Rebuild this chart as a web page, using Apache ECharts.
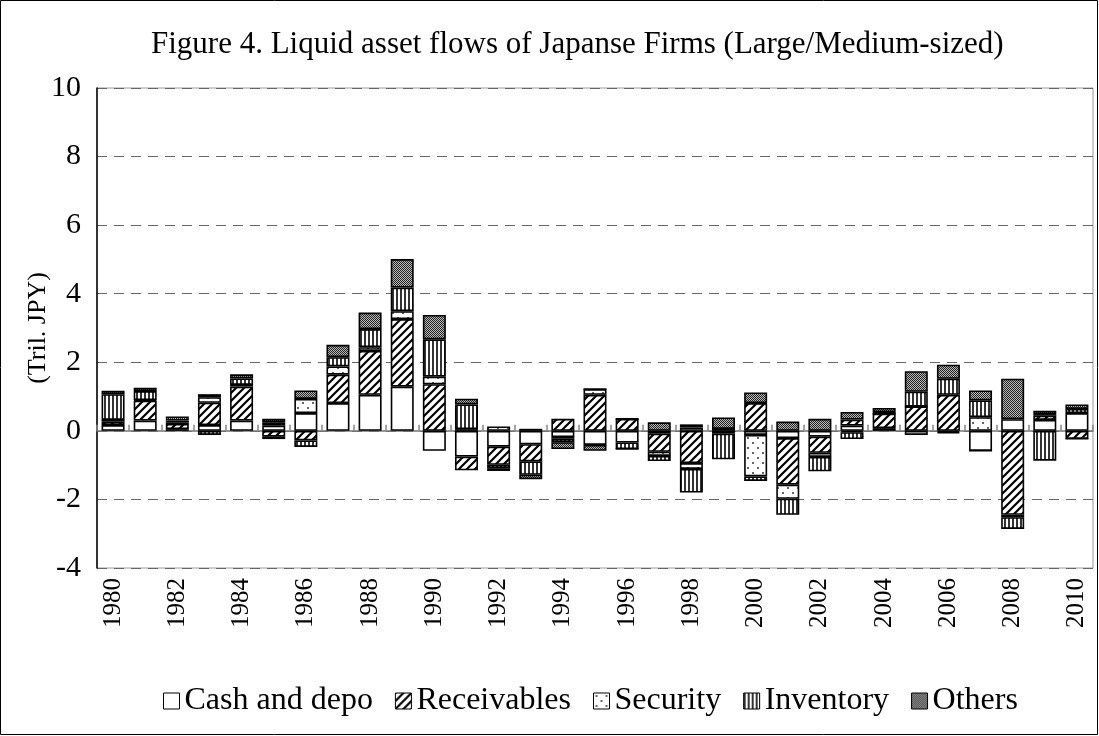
<!DOCTYPE html>
<html>
<head>
<meta charset="utf-8">
<script src="https://cdn.jsdelivr.net/npm/echarts@6/dist/echarts.min.js"></script>
<style>
  html, body { margin: 0; padding: 0; background: #fff; }
  #chart { width: 1099px; height: 736px; }
</style>
</head>
<body>
<div id="chart"></div>
<script>
// data (Tril. JPY)
var years = ['1980','1981','1982','1983','1984','1985','1986','1987','1988','1989','1990',
  '1991','1992','1993','1994','1995','1996','1997','1998','1999','2000',
  '2001','2002','2003','2004','2005','2006','2007','2008','2009','2010'];
var cash = [0.17, 0.3, 0.05, 0.17, 0.3, 0.15, 0.52, 0.81, 1.05, 1.29, -0.58,
  -0.75, -0.46, -0.39, -0.18, -0.41, -0.34, -0.08, 0.1, 0.06, -0.12,
  -0.21, -0.17, 0.15, 0.08, -0.12, -0.04, -0.58, 0.34, 0.32, 0.52];
var receivables = [0.1, 0.58, 0.15, 0.65, 0.99, -0.17, -0.28, 0.83, 1.28, 1.97, 1.36,
  -0.4, -0.53, -0.5, 0.35, 1.05, 0.35, -0.53, -0.94, 0, 0.81,
  -1.36, -0.47, 0.18, 0.42, 0.71, 1.05, 0, -2.45, 0.12, -0.23];
var security = [0.05, 0.02, 0.05, 0.16, 0.05, -0.07, 0.41, 0.24, 0.11, 0.23, 0.22,
  0.05, 0.13, 0.06, -0.05, 0.17, 0, -0.12, -0.17, -0.08, -1.21,
  -0.41, -0.12, -0.04, 0, 0, -0.03, 0.4, -0.07, 0.05, 0];
var inventory = [0.75, 0.26, 0.05, -0.12, 0.19, 0.1, -0.19, 0.27, 0.53, 0.69, 1.09,
  0.72, -0.1, -0.39, -0.1, 0, -0.19, -0.15, -0.69, -0.75, -0.13,
  -0.47, -0.42, -0.2, 0.05, 0.43, 0.47, 0.49, -0.34, -0.87, 0.12];
var others = [0.1, 0.1, 0.12, 0.09, 0.12, 0.1, 0.25, 0.36, 0.48, 0.83, 0.71,
  0.17, -0.08, -0.13, -0.2, -0.17, 0, 0.25, 0.09, 0.33, 0.31,
  0.27, 0.35, 0.22, 0.12, 0.6, 0.41, 0.29, 1.18, 0.1, 0.13];
var yTicks = { min: -4, max: 10, step: 2 };

var FONT = '"Liberation Serif", "Times New Roman", serif';

// fill patterns
function makePattern(w, h, draw) {
  var c = document.createElement('canvas');
  c.width = w; c.height = h;
  var ctx = c.getContext('2d');
  ctx.fillStyle = '#fff';
  ctx.fillRect(0, 0, w, h);
  draw(ctx);
  return { image: c, repeat: 'repeat' };
}
var hatch = makePattern(8, 8, function (ctx) {
  ctx.strokeStyle = '#000';
  ctx.lineWidth = 2.2;
  ctx.beginPath();
  ctx.moveTo(-2, 10); ctx.lineTo(10, -2);
  ctx.moveTo(-6, 6); ctx.lineTo(6, -6);
  ctx.moveTo(2, 14); ctx.lineTo(14, 2);
  ctx.stroke();
});
var dots = makePattern(10, 10, function (ctx) {
  ctx.fillStyle = '#666';
  ctx.fillRect(2, 2, 2, 2);
  ctx.fillRect(7, 7, 2, 2);
});
var vlines = makePattern(4, 4, function (ctx) {
  ctx.fillStyle = '#333';
  ctx.fillRect(0, 0, 2, 4);
});
var checker = makePattern(2, 2, function (ctx) {
  ctx.fillStyle = '#bbb';
  ctx.fillRect(0, 0, 2, 2);
  ctx.fillStyle = '#222';
  ctx.fillRect(0, 0, 1, 1);
  ctx.fillRect(1, 1, 1, 1);
});

function barSeries(name, data, fill) {
  return {
    name: name,
    type: 'bar',
    stack: 'flows',
    data: data,
    barWidth: 23,
    itemStyle: { color: fill, borderColor: '#000', borderWidth: 1.6 },
    emphasis: { disabled: true }
  };
}

var chart = echarts.init(document.getElementById('chart'));
chart.setOption({
  animation: false,
  backgroundColor: '#fff',
  textStyle: { fontFamily: FONT, color: '#000' },
  graphic: [{
    type: 'rect',
    shape: { x: 0.5, y: 0.5, width: 1097, height: 734 },
    style: { fill: 'none', stroke: '#000', lineWidth: 1 },
    silent: true
  }],
  title: {
    text: 'Figure 4. Liquid asset flows of Japanse Firms (Large/Medium-sized)',
    left: 146, top: 24,
    textStyle: { fontFamily: FONT, fontSize: 31, fontWeight: 'normal', color: '#000' }
  },
  legend: {
    left: 158, top: 680,
    icon: 'rect',
    itemWidth: 16, itemHeight: 16, itemGap: 22,
    textStyle: { fontFamily: FONT, fontSize: 32, color: '#000' },
    itemStyle: { borderWidth: 1 },
    data: ['Cash and depo', 'Receivables', 'Security', 'Inventory', 'Others']
  },
  grid: {
    left: 97, right: 6, top: 88, bottom: 168,
    show: true, borderColor: '#999', borderWidth: 1, backgroundColor: '#fff'
  },
  xAxis: [{
    type: 'category',
    data: years,
    position: 'bottom',
    axisLine: { show: false, onZero: false },
    axisTick: { show: false },
    axisLabel: {
      interval: 1, rotate: 90, margin: 10,
      fontFamily: FONT, fontSize: 25, color: '#000'
    }
  }, {
    type: 'category',
    data: years,
    position: 'top',
    axisLine: { show: true, onZero: true, lineStyle: { color: '#777', width: 1.5 } },
    axisTick: { show: true, length: 6, lineStyle: { color: '#888', width: 1.5 } },
    axisLabel: { show: false }
  }],
  yAxis: {
    type: 'value',
    min: yTicks.min, max: yTicks.max, interval: yTicks.step,
    name: '(Tril. JPY)',
    nameLocation: 'middle',
    nameRotate: 90,
    nameGap: 46,
    nameMoveOverlap: false,
    nameTextStyle: { fontFamily: FONT, fontSize: 26, color: '#000' },
    axisLine: { show: true, lineStyle: { color: '#000', width: 1.5 } },
    axisTick: { show: false },
    axisLabel: { margin: 16, fontFamily: FONT, fontSize: 30, color: '#000' },
    splitLine: { show: true, lineStyle: { color: '#666', type: [10, 7], width: 1 } }
  },
  series: [
    barSeries('Cash and depo', cash, '#fff'),
    barSeries('Receivables', receivables, hatch),
    barSeries('Security', security, dots),
    barSeries('Inventory', inventory, vlines),
    barSeries('Others', others, checker)
  ]
});
</script>
</body>
</html>
